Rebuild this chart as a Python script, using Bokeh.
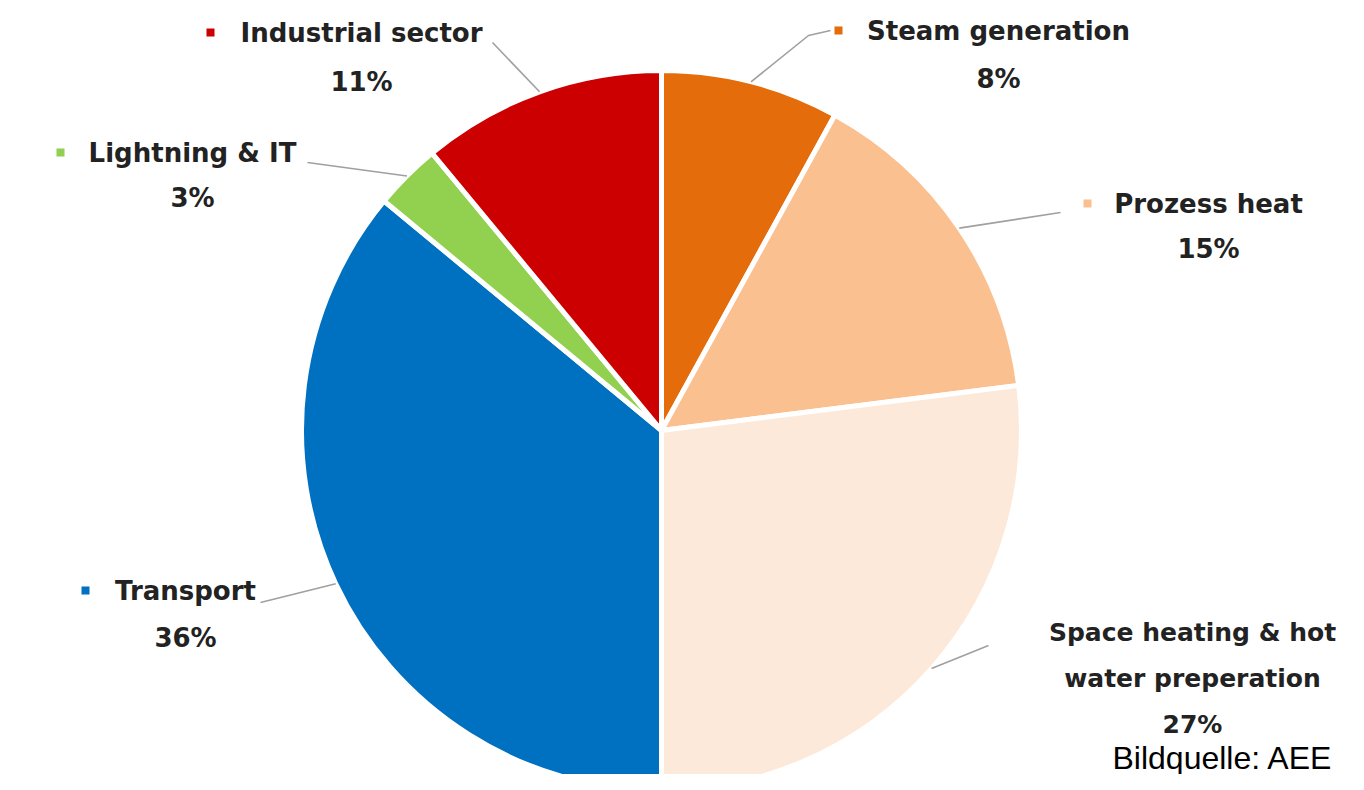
import math
from bokeh.plotting import figure
from bokeh.models import Range1d, ColumnDataSource
from bokeh.core.properties import value
from bokeh.embed import file_html
from bokeh.resources import INLINE

# ---- data ----
categories = ["Steam generation", "Prozess heat", "Space heating & hot water preperation",
              "Transport", "Lightning & IT", "Industrial sector"]
shares = [8, 15, 27, 36, 3, 11]
colors = ["#E46C0A", "#FAC090", "#FDE9D9", "#0070C0", "#92D050", "#CC0000"]
label_lines = [["Steam generation"], ["Prozess heat"], ["Space heating & hot", "water preperation"],
               ["Transport"], ["Lightning & IT"], ["Industrial sector"]]

# ---- layout (image pixel coordinates, y downward) ----
W, H = 1348, 774
CX, CY, R = 661, 430, 360
# label block: (center x, first line y, line spacing, marker x, font size)
label_pos = [
    (998, 30, 48, 838, 26),
    (1208, 203, 45, 1087, 26),
    (1192, 632, 46, None, 25),
    (185, 590, 47, 85, 26),
    (192, 152, 45, 60, 26),
    (361, 32, 49, 210, 26),
]
# leader end near the label (image coords); optional knee
leader_ends = [
    [(808, 35), (830, 30)],
    [(1060, 212)],
    [(988, 645)],
    [(260, 602)],
    [(307, 162)],
    [(492, 42)],
]

def X(x_img):
    return x_img

def Y(y_img):
    return H - y_img

p = figure(width=W, height=H, output_backend="svg", toolbar_location=None,
           x_range=Range1d(0, W), y_range=Range1d(0, H),
           min_border=0, background_fill_color="white", border_fill_color="white")
p.axis.visible = False
p.grid.visible = False
p.outline_line_color = None

total = float(sum(shares))
starts, ends, mids = [], [], []
cum = 0.0
for s in shares:
    a0 = math.pi / 2 - 2 * math.pi * cum / total
    cum += s
    a1 = math.pi / 2 - 2 * math.pi * cum / total
    starts.append(a0)
    ends.append(a1)
    mids.append((a0 + a1) / 2)

src = ColumnDataSource(dict(start=starts, end=ends, color=colors,
                            cat=categories, share=shares))
p.wedge(x=X(CX), y=Y(CY), radius=R, start_angle="start", end_angle="end",
        direction="clock", fill_color="color", line_color="white",
        line_width=5, source=src)

# leader lines
for m, pts in zip(mids, leader_ends):
    xs = [X(CX) + R * math.cos(m)] + [X(pt[0]) for pt in pts]
    ys = [Y(CY) + R * math.sin(m)] + [Y(pt[1]) for pt in pts]
    p.line(xs, ys, line_color="#A0A0A0", line_width=1.6)

# labels
font = value("DejaVu Sans")
for i, (lines, (lx, ly, dy, mx, fs)) in enumerate(zip(label_lines, label_pos)):
    texts = lines + ["%d%%" % shares[i]]
    for j, t in enumerate(texts):
        p.text(x=[X(lx)], y=[Y(ly + j * dy)], text=[t], text_font=font,
               text_font_size="%dpx" % fs, text_font_style="bold",
               text_color="#222222", text_align="center", text_baseline="middle")
    if mx is not None:
        p.scatter(x=[X(mx)], y=[Y(ly)], marker="square", size=8,
                  fill_color=colors[i], line_color=None)

p.text(x=[X(1112)], y=[Y(757)], text=["Bildquelle: AEE"], text_font=value("Liberation Sans"),
       text_font_size="32px", text_color="#000000", text_align="left",
       text_baseline="alphabetic")

open("out.html", "w").write(file_html(p, INLINE))
